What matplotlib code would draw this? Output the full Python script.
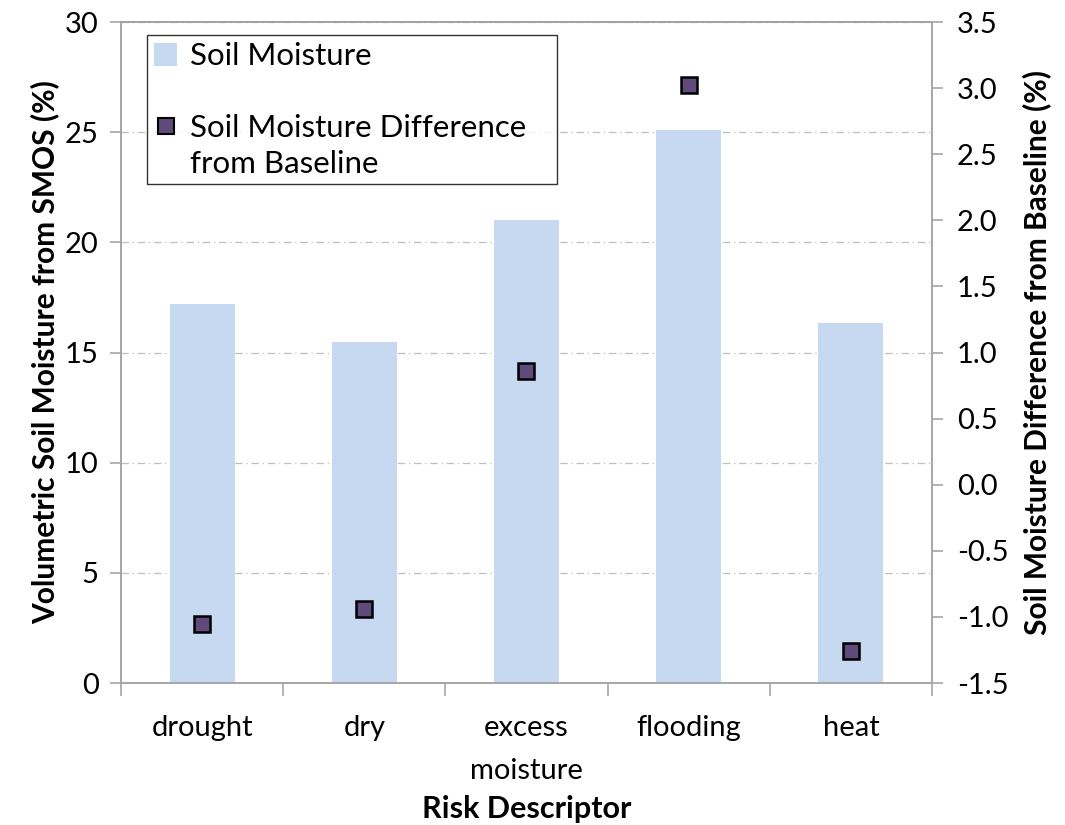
import matplotlib
matplotlib.use("Agg")
import matplotlib.pyplot as plt
import numpy as np
from matplotlib.lines import Line2D
from matplotlib.patches import Patch

categories = ["drought", "dry", "excess\nmoisture", "flooding", "heat"]
soil_moisture = [17.2, 15.5, 21.0, 25.1, 16.35]
sm_difference = [-1.05, -0.94, 0.86, 3.02, -1.26]

plt.rcParams['font.family'] = ['Lato', 'DejaVu Sans']

fig = plt.figure(figsize=(10.65, 8.25), dpi=100)
ax = fig.add_axes([0.1136, 0.1721, 0.7615, 0.8012])
x = np.arange(len(categories))
bar_color = "#C6D9F1"
ax.bar(x, soil_moisture, width=0.4, color=bar_color, zorder=2)
ax.set_xlim(-0.5, len(categories) - 0.5)
ax.set_ylim(0, 30)
ax.set_yticks(np.arange(0, 31, 5))
ax.yaxis.grid(True, color="#BFBFBF", linestyle=(0, (6, 3, 1, 3)), linewidth=0.9, zorder=0)
ax.set_axisbelow(True)

ax2 = ax.twinx()
ax2.set_ylim(-1.5, 3.5)
ax2.set_yticks(np.arange(-1.5, 3.51, 0.5))
ax2.set_yticklabels([f"{v:.1f}" for v in np.arange(-1.5, 3.51, 0.5)])
ax2.plot(x, sm_difference, linestyle="none", marker="s", markersize=12,
         markerfacecolor="#604A7B", markeredgecolor="black", markeredgewidth=1.8, zorder=5)

for a in (ax, ax2):
    for s in a.spines.values():
        s.set_color("#A6A6A6")
        s.set_linewidth(1.2)
ax.spines['top'].set_color("#808080")

ax.set_xticks(x)
ax.set_xticklabels(categories, fontsize=21, linespacing=1.8)
ax.set_xticks(np.arange(-0.5, len(categories), 1), minor=True)
ax.tick_params(axis='x', which='major', length=0, pad=23)
ax.tick_params(axis='x', which='minor', length=9, color="#A6A6A6", width=1.2)
ax.tick_params(axis='y', labelsize=21, length=8, color="#A6A6A6", width=1.2, pad=8)
ax2.tick_params(axis='y', labelsize=21, length=8, color="#A6A6A6", width=1.2, pad=10)

ax.set_ylabel("Volumetric Soil Moisture from SMOS (%)", fontsize=21.5, fontweight='bold', labelpad=4)
ax2.set_ylabel("Soil Moisture Difference from Baseline (%)", fontsize=21.5, fontweight='bold', labelpad=10)
ax.set_xlabel("Risk Descriptor", fontsize=22, fontweight='bold', labelpad=8)

blank = Patch(facecolor='none', edgecolor='none')
handles = [Patch(facecolor=bar_color, edgecolor='none'), blank,
           Line2D([], [], linestyle='none', marker='s', markersize=12,
                  markerfacecolor="#604A7B", markeredgecolor="black", markeredgewidth=1.5),
           blank]
labels = ["Soil Moisture", " ", "Soil Moisture Difference   ", "from Baseline"]
leg = ax.legend(handles, labels,
                loc='upper left', bbox_to_anchor=(0.032, 0.98), fontsize=22.5, frameon=True,
                fancybox=False, edgecolor="black", labelspacing=0.25, handlelength=0.75,
                handleheight=0.75, handletextpad=0.4, borderpad=0.22, borderaxespad=0)
leg.get_frame().set_linewidth(1.0)
leg.set_zorder(10)

fig.savefig("out.png", dpi=100)
